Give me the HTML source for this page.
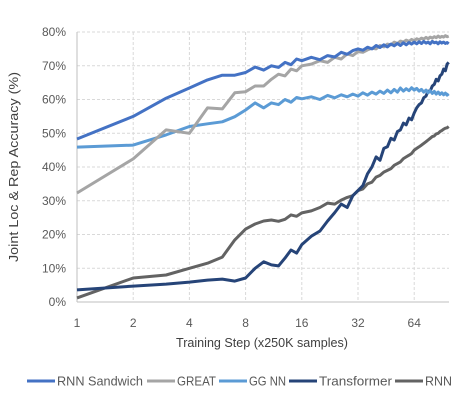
<!DOCTYPE html>
<html><head><meta charset="utf-8"><style>
body{margin:0;background:#fff;}
svg{display:block;font-family:"Liberation Sans",sans-serif;}
</style></head><body>
<svg id="chart" width="476" height="402" viewBox="0 0 476 402">
<g id="grid"></g>
<g id="axes"></g>
<g id="series"></g>
<text x="0" y="0" transform="translate(18,167) rotate(-90)" text-anchor="middle" font-size="12.5" fill="#404040" textLength="190" lengthAdjust="spacingAndGlyphs">Joint Loc &amp; Rep Accuracy (%)</text>
<text x="262" y="347" text-anchor="middle" font-size="12.5" fill="#404040" textLength="172" lengthAdjust="spacingAndGlyphs">Training Step (x250K samples)</text>
<g id="legend"></g>
</svg>
<script>
const steps=[1,2,3,4,5,6,7,8,9,10,11,12,13,14,15,16,18,20,22,24,26,28,30,32,34,36,38,40,42,44,46,48,50,52,54,56,58,60,62,64,66,68,70,72,74,76,78,80,82,84,86,88,90,92,94,96,98];
const xTicks=[1,2,4,8,16,32,64];
const yTicks=[0,10,20,30,40,50,60,70,80];
const seriesNames=["RNN Sandwich","GREAT","GGNN","Transformer","RNN"];
const rnnSandwich=[48.3,55,60.4,63.4,65.8,67.2,67.2,68,69.6,68.7,70,69.5,71,70.3,72,71.5,72.5,71.8,73,72.6,74,73.4,74.5,75,74.6,75.5,75,76,75.4,76.2,75.6,76.4,75.9,76.6,76,76.8,76.2,76.9,76.4,77,76.5,77.1,76.6,77.2,76.7,77,76.5,77.2,76.8,77,76.5,77.1,76.7,77,76.6,76.9,76.5];
const great=[32.3,42.4,51,50,57.5,57.2,62,62.3,64,64,66,67.5,67,69,68.5,70,70.5,71.5,71,72.5,72,73.5,73,74.2,74,74.7,75.2,75,76,75.6,76.4,76.2,77,76.6,77.3,77,77.6,77.2,77.8,77.4,78,77.7,78.2,77.9,78.4,78,78.5,78.2,78.6,78.3,78.8,78.4,78.7,78.5,78.9,78.6,78.8];
const ggnn=[45.9,46.5,49.5,52,52.8,53.4,54.9,56.9,59,57.5,59,58.5,60,59.2,60.6,60.2,60.8,60,61.2,60.5,61.4,60.8,61.6,61,62,61.3,62.2,61.6,62.5,61.8,62.8,62,63,62.2,63.4,62.5,63.2,62.6,63.5,62.8,63.3,62.5,63,62.2,62.8,62,62.6,61.8,62.4,61.6,62.2,61.5,62,61.4,61.9,61.3,61.7];
const transformer=[3.6,4.7,5.3,5.9,6.5,6.8,6.2,7.1,10,11.9,11,10.7,13,15.4,14.5,17,19.5,21,24,26.5,29,28,31.5,33,34.5,38,40,43,42,45.5,46,48.5,48,50.5,51,53,52.5,54.5,54,56,57.5,58.5,59,60.5,61,62.5,62.5,64,64.5,66,65.5,67,67.5,69,68.5,70.5,71];
const rnn=[1.2,7.1,8,10,11.5,13.3,18.4,21.6,23.1,24,24.3,23.9,24.5,25.8,25.4,26.4,27,28,29.3,29,30.2,31,31.5,33,33.5,35,35.5,37,37.5,38.5,39,39.5,40.5,41,41.5,42.5,43,43.5,44,45,45.5,46,46.5,47,47.5,48,48.5,49,49.2,49.8,50,50.5,50.8,51.2,51.5,51.6,52];
const allSeries=[rnnSandwich,great,ggnn,transformer,rnn];
const colors=["#4472C4","#A5A5A5","#5B9BD5","#264478","#636363"];
const NS="http://www.w3.org/2000/svg";
const X0=77,X1=449,Y0=302,Y1=32;
const xs=s=>X0+Math.log2(s)*56.2;
const ys=v=>Y0-(v/80)*(Y0-Y1);
function mk(tag,attrs,parent){const e=document.createElementNS(NS,tag);for(const k in attrs)e.setAttribute(k,attrs[k]);parent.appendChild(e);return e;}
const grid=document.getElementById('grid'),axes=document.getElementById('axes'),ser=document.getElementById('series'),leg=document.getElementById('legend');
yTicks.forEach(t=>{
  if(t>0){const l=mk('line',{x1:X0,x2:X1,y1:ys(t),y2:ys(t),stroke:'#d9d9d9','stroke-dasharray':'3,2'},grid);
  
  }
  const tx=mk('text',{x:66,y:ys(t)+4,'text-anchor':'end','font-size':'12',fill:'#595959'},axes);
  tx.textContent=t+'%';
  
  
});
xTicks.forEach(t=>{
  if(t>1){const l=mk('line',{x1:xs(t),x2:xs(t),y1:Y1,y2:Y0,stroke:'#d9d9d9','stroke-dasharray':'3,2'},grid);
  
  }
  const tx=mk('text',{x:xs(t),y:327,'text-anchor':'middle','font-size':'12',fill:'#595959'},axes);
  tx.textContent=t;
  
  
});
const xa=mk('line',{x1:X0,x2:X1,y1:Y0,y2:Y0,stroke:'#bfbfbf'},axes);


const ya=mk('line',{x1:X0,x2:X0,y1:Y1,y2:Y0,stroke:'#bfbfbf'},axes);


const order=[4,3,2,1,0];
order.forEach(i=>{
  const d=allSeries[i].map((v,j)=>(j?'L':'M')+xs(steps[j]).toFixed(1)+','+ys(v).toFixed(1)).join('');
  const p=mk('path',{d:d,fill:'none',stroke:colors[i],'stroke-width':'3','stroke-linejoin':'round'},ser);
  
  
});
const legX=[27,147,219,289,395];
const legW=[86,39,37,73,27];
seriesNames.forEach((n,i)=>{
  const l=mk('line',{x1:legX[i],x2:legX[i]+28,y1:381,y2:381,stroke:colors[i],'stroke-width':'3'},leg);
  
  
  const t=mk('text',{x:legX[i]+30,y:385.5,'font-size':'12.5',fill:'#595959',textLength:legW[i],lengthAdjust:'spacingAndGlyphs'},leg);
  t.textContent=n==="GGNN"?"GG NN":n;
  
  
});
</script>
</body></html>
